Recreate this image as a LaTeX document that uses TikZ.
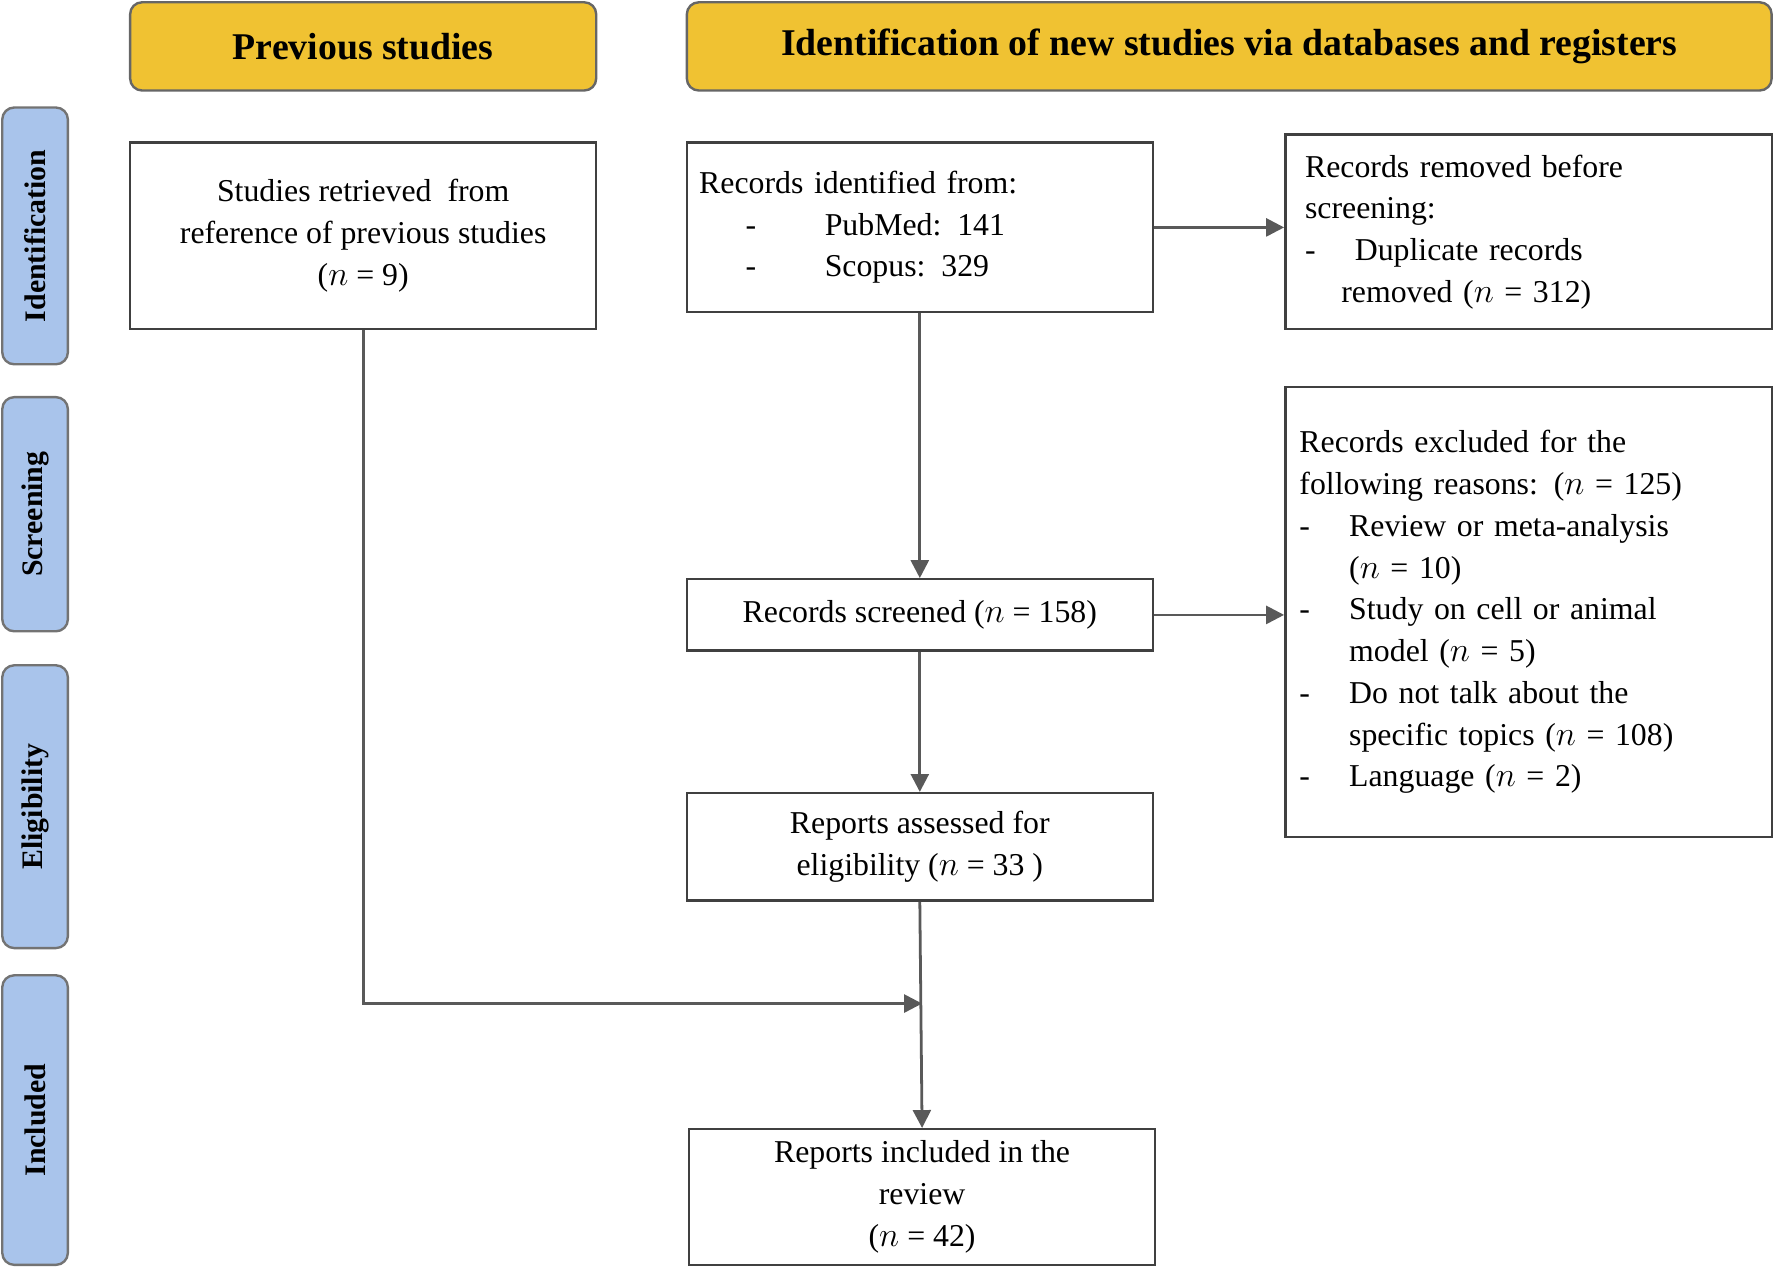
\documentclass[tikz,border=0pt]{standalone}
\usepackage{fontspec}
\setmainfont{Liberation Serif}
\usetikzlibrary{positioning, arrows.meta}
\tikzset{
  box/.style={draw=black!75, line width=1.2pt, fill=white, align=center, inner sep=0pt,
    font=\fontsize{16}{21}\selectfont},
  head/.style={draw=black!60, line width=1.2pt, rounded corners=6pt, fill=headyellow,
    minimum height=1.56cm, font=\bfseries\fontsize{19}{23}\selectfont},
  side/.style={draw=black!55, line width=1.2pt, rounded corners=6pt, fill=sideblue,
    rotate=90, minimum height=1.16cm, font=\bfseries\fontsize{15}{18}\selectfont},
  flow/.style={draw=black!65, line width=1.4pt, -{Triangle[length=9pt, width=9pt]}}
}
\definecolor{headyellow}{HTML}{F0C232}
\definecolor{sideblue}{HTML}{A9C4EB}
\newcommand{\dashitem}[1]{\makebox[0.88cm][l]{-}#1}
\begin{document}
\begin{tikzpicture}[x=0.02cm, y=-0.02cm, >=Latex]
	\useasboundingbox (0,0) rectangle (1568,1120);
	
	% Headers and phases
	\node [head, minimum width=8.24cm] (prevhead) at (321,41) {Previous studies};
	\node [head, minimum width=19.18cm] (newhead) at (1086.5,41) {Identification of new studies via databases and registers};
	\node [side, minimum width=4.54cm] (identif) at (31,208.5) {Identification};
	\node [side, minimum width=4.14cm] (screen) at (31,454.5) {Screening};
	\node [side, minimum width=5.0cm] (elig) at (31,713) {Eligibility};
	\node [side, minimum width=5.12cm] (incl) at (31,990) {Included};
	
	% Boxes
	\node [box, minimum width=8.24cm, minimum height=3.3cm] (previous) at (321,208.5)
		{Studies retrieved\ \ from\\reference of previous studies\\($n$ = 9)};
	\node [box, minimum width=8.24cm, minimum height=3.0cm, align=left, text width=7.8cm] (records) at (813,201)
		{Records identified from:\\\hspace*{0.82cm}\makebox[1.4cm][l]{-}PubMed: 141\\\hspace*{0.82cm}\makebox[1.4cm][l]{-}Scopus: 329};
	\node [box, minimum width=8.6cm, minimum height=3.44cm, align=left, text width=7.9cm] (removed) at (1351,205)
		{Records removed before\\screening:\\\dashitem{Duplicate records}\\\hspace*{0.64cm}removed ($n$ = 312)};
	\node [box, minimum width=8.24cm, minimum height=1.26cm] (screened) at (813,543.5)
		{Records screened ($n$ = 158)};
	\node [box, minimum width=8.6cm, minimum height=7.96cm, align=left, text width=8.1cm] (excluded) at (1351,541)
		{Records excluded for the\\following reasons: ($n$ = 125)\\\dashitem{Review or meta-analysis}\\\hspace*{0.88cm}($n$ = 10)\\
		 \dashitem{Study on cell or animal}\\\hspace*{0.88cm}model ($n$ = 5)\\\dashitem{Do not talk about the}\\
		 \hspace*{0.88cm}specific topics ($n$ = 108)\\\dashitem{Language ($n$ = 2)}};
	\node [box, minimum width=8.24cm, minimum height=1.9cm] (assessed) at (813,748.5)
		{Reports assessed for\\eligibility ($n$ = 33 )};
	\node [box, minimum width=8.24cm, minimum height=2.4cm] (included) at (815,1058)
		{Reports included in the\\review\\($n$ = 42)};
	\coordinate (corner) at (321,887);
	\coordinate (join) at (815,887);
	
	% Arrows
	\draw [flow] (records) -- (removed.west |- records);
	\draw [flow] (screened) -- (excluded.west |- screened);
	\draw [flow] (records) -- (screened);
	\draw [flow] (screened) -- (assessed);
	\draw [flow] (assessed.south) -- (included.north);
	\draw [flow] (previous.south) -- (corner) -- (join);
\end{tikzpicture}
\end{document}
